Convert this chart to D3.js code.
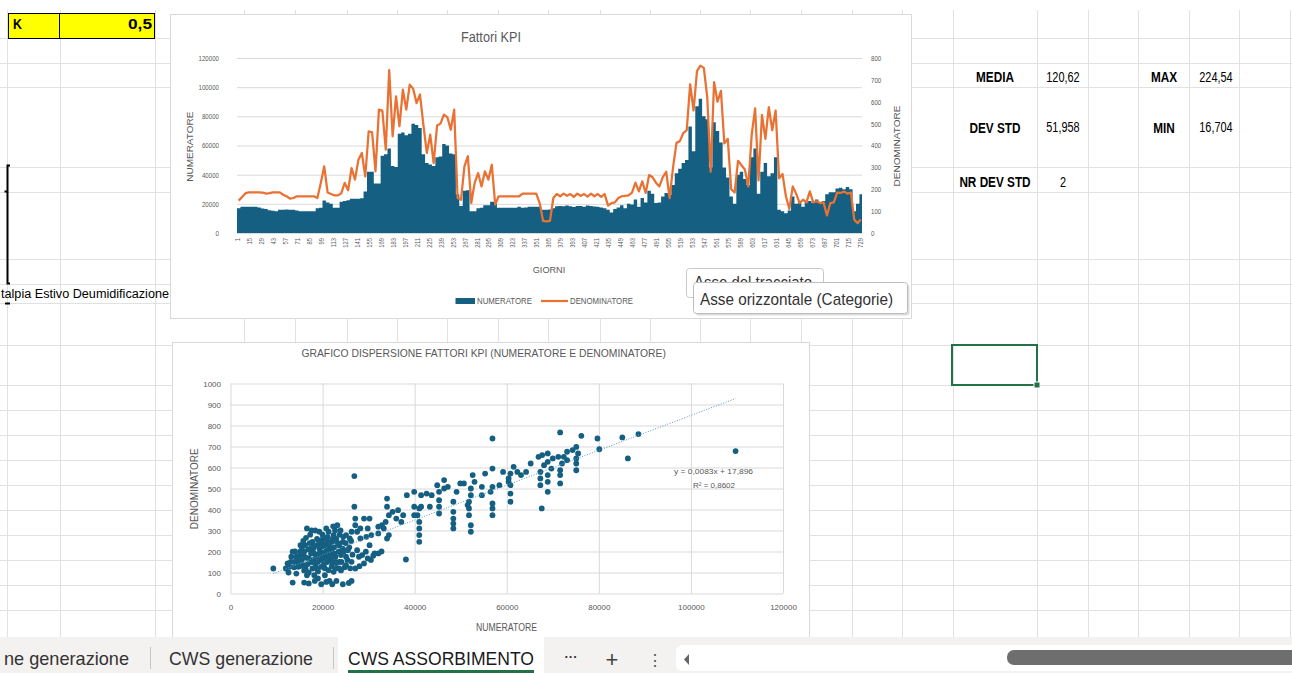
<!DOCTYPE html>
<html>
<head>
<meta charset="utf-8">
<title>CWS ASSORBIMENTO - Fattori KPI</title>
<script src="https://cdnjs.cloudflare.com/ajax/libs/d3/7.8.5/d3.min.js"></script>
<style>
  html, body { margin:0; padding:0; background:#fff; overflow:hidden; }
  svg { display:block; }
</style>
</head>
<body>
<svg id="sheet" width="1292" height="673"></svg>
<script>
// ---- data ----
// daily series, one value every STEP days (day 1, 5, 9, ...)
var STEP = 4;
var N_DAYS = 731;
var numeratore = [
  17000, 18000, 18000, 18000, 18000, 18000, 17500, 16800, 16500, 15600,
  15200, 15000, 16000, 16000, 16200, 16000, 16000, 15500, 15000, 15000,
  15000, 15000, 15000, 17000, 17300, 22300, 21000, 20000, 17300, 17300,
  21400, 22000, 22500, 23500, 23500, 23500, 23800, 28500, 42000, 42000,
  34000, 34000, 53000, 54000, 58000, 46000, 45300, 68000, 69000, 67000,
  68000, 75000, 74000, 72000, 54000, 48000, 47000, 46000, 52000, 52400,
  61000, 60000, 54500, 54000, 26500, 18500, 29000, 29400, 15000, 15000,
  17000, 17300, 19000, 19000, 21400, 21400, 17300, 17300, 17300, 17300,
  17300, 17300, 18000, 17300, 17500, 18000, 18000, 18000, 18000, 16000,
  16000, 16200, 17000, 18300, 18500, 18300, 18800, 18300, 17800, 18500,
  18600, 18000, 18900, 18500, 18200, 18000, 17500, 17000, 16000, 14000,
  16500, 17500, 19000, 17000, 20000, 19500, 23000, 18000, 24000, 21000,
  29000, 27000, 20500, 21000, 25000, 27500, 26000, 33000, 41000, 44000,
  48000, 50000, 73000, 56000, 87000, 92000, 80000, 78000, 45000, 76000,
  70000, 62000, 45000, 38000, 25000, 20000, 40000, 42000, 37000, 33000,
  52000, 58000, 27000, 42000, 48000, 39000, 41000, 52000, 16000, 15000,
  13500, 15500, 25000, 20000, 21000, 18000, 21000, 22000, 20500, 23000,
  21000, 22000, 26500, 28000, 28000, 30500, 31000, 30000, 31500, 30000,
  15000, 20000, 26500
];
var denominatore = [
  148, 165, 182, 186, 186, 186, 186, 185, 180, 182,
  186, 186, 186, 175, 168, 157, 160, 168, 168, 168,
  168, 168, 168, 160, 229, 305, 185, 178, 172, 172,
  182, 229, 195, 297, 244, 335, 366, 259, 465, 460,
  282, 564, 560, 381, 745, 442, 625, 488, 655, 564,
  678, 660, 594, 633, 495, 366, 450, 320, 491, 500,
  541, 530, 472, 564, 160, 152, 305, 351, 137, 229,
  274, 213, 282, 244, 312, 130, 168, 168, 168, 168,
  168, 168, 168, 180, 180, 180, 180, 180, 137, 55,
  53, 55, 160, 178, 168, 180, 170, 178, 165, 180,
  170, 178, 166, 180, 168, 178, 165, 178, 125, 137,
  140, 160, 168, 170, 172, 185, 230, 190, 236, 183,
  265, 255, 230, 213, 255, 280, 160, 300, 412, 420,
  457, 470, 680, 560, 740, 765, 755, 620, 280, 690,
  600, 650, 410, 430, 200, 185, 330, 310, 290, 213,
  450, 570, 240, 540, 430, 575, 470, 560, 250, 270,
  168, 110, 213, 180, 137, 152, 140, 190, 140, 145,
  137, 140, 80, 137, 140, 185, 183, 190, 180, 185,
  60, 45, 62
];
var dayTicks = d3.range(1, N_DAYS + 1, 14);   // 1, 15, 29 ... 729
var leftTicks = [0, 20000, 40000, 60000, 80000, 100000, 120000];
var rightTicks = [0, 100, 200, 300, 400, 500, 600, 700, 800];

// scatter: [numeratore, denominatore]
var scatterPoints = [
  [9300,119],[71600,767],[56900,738],[76200,751],[79700,738],[85100,743],[88600,759],
  [80100,687],[86300,643],[109700,678],[26900,559],[26900,413],[38100,162],[13500,52],
  [16000,52],[19700,44],[22100,44],[24400,44],[26300,60],
  [66900,651],[67700,659],[68900,667],[68100,611],[68900,627],[70000,643],[71200,651],
  [72400,651],[73100,675],[74300,683],[75100,698],[75500,667],[75100,643],[75100,619],
  [75100,587],[73100,635],[72000,619],[71600,587],[71600,564],[71600,524],[69700,595],
  [68900,564],[68900,532],[68900,484],[67300,579],[67300,548],[67300,516],[67600,405],
  [65200,619],[64200,579],[63100,564],[62300,579],[61500,603],[60800,571],[60400,548],
  [60400,532],[60800,476],[60800,437],[60800,516],[59200,579],[58400,516],[56900,595],
  [56900,508],[56900,429],[56900,405],[56900,373],[56500,484],[54600,508],[54600,468],
  [55300,571],[53000,532],[52600,564],[52200,500],[52200,468],[51800,437],[51800,405],
  [51800,373],[52200,325],[52200,294],[51500,421],[50700,524],[49900,524],[49100,484],
  [48400,437],[48400,389],[48400,357],[48400,333],[48400,310],[47200,508],[46400,540],
  [46400,500],[45300,484],[45300,444],[45300,413],[45300,381],[44900,516],[43700,468],
  [43300,413],[42600,476],[41400,468],[41400,413],[41000,405],[40600,373],[41000,341],
  [41000,310],[41000,278],[41000,246],[39900,484],[39900,413],[39900,373],[38300,468],
  [37500,373],[37100,341],[36400,397],[36000,357],[35200,389],[34400,373],[34000,413],
  [34000,452],[33700,341],[33300,310],[32900,325],[32100,318],[32100,286],[34000,262],
  [34400,278],[30600,278],[30200,357],[29800,310],[29000,357],[28200,310],[28200,262],
  [27500,294],[27100,357],[27100,325],[26300,294],[25900,262],[25100,278],[24400,246],
  [23600,230],[23200,325],[22400,278],[22100,246],[22100,199],[22100,151],[21700,214],
  [21300,294],[20900,175],[20500,230],[20100,262],[19700,183],[19300,294],[19000,230],
  [19000,151],[18200,191],[17800,246],[17800,119],[17400,214],[17000,167],[16600,310],
  [16600,87],[16200,230],[15900,183],[15900,135],[15500,159],[15100,199],[14700,127],
  [14300,175],[13900,151],[13500,199],[13100,151],[12800,127],[12400,143],[12000,119],
  [14300,95],[17000,48],[19000,72],[23600,119],[25100,135],[26300,151],[27100,119],
  [27900,175],[28600,183],[29400,199],[30200,230],[31300,191],[32100,191],[29800,167],
  [29000,143],[27500,206],[25500,206],[24000,183],[22800,151],[22800,175],[20500,87],
  [19700,127],[18200,87],[18600,175],[19300,214],[20100,167],[21300,111],[22400,103],
  [23600,151],[24400,214],[25100,175],[16000,200],[16500,170],[17500,190],[18000,160],
  [18500,140],[19500,200],[20000,190],[21000,150],[21500,180],[22500,220],[23000,260],
  [23500,200],[24500,270],[20000,280],[18800,260],[17200,240],[16800,140],[15500,220],
  [14500,160],[15000,180],[21000,250],[22700,300],[26500,185],[30500,160],[31000,180],
  [28000,130],[26000,120],[24800,125],[32800,200],[29500,270],[22000,130],[20500,120],
  [19000,105],[14000,200],[14800,140],[15200,230],[15800,250],[16300,120],[16900,210],
  [17300,280],[17700,150],[18100,230],[18400,300],[18700,120],[19200,250],[19600,160],
  [19900,240],[20300,140],[20700,200],[21100,270],[21400,230],[21800,160],[22200,260],
  [22600,190],[22900,120],[23300,240],[23700,280],[24100,150],[24600,200],[25000,240],
  [25400,160],[25800,220],[26200,250],[15000,130],[16000,110],[17000,100],[18000,215],
  [19000,185],[20000,225],[21000,205],[22000,175],[23000,145],[24000,110],[12600,100],
  [13200,175],[13800,125],[16400,265],[17600,300],[20800,310],[22300,320],[23900,300],
  [18300,60],[20800,55],[21500,60],[23000,60],[25700,50]
];
var scatterXTicks = [0, 20000, 40000, 60000, 80000, 100000, 120000];
var scatterYTicks = [0, 100, 200, 300, 400, 500, 600, 700, 800, 900, 1000];
var trendSlope = 0.0083, trendIntercept = 17.896;
var trendFrom = 9300, trendTo = 109700;
var trendLabels = ['y = 0,0083x + 17,896', 'R\u00b2 = 0,8602'];

// cells on the sheet
var statLeft = [['MEDIA', '120,62'], ['DEV STD', '51,958'], ['NR DEV STD', '2']];
var statRight = [['MAX', '224,54'], ['MIN', '16,704']];
var tabNames = ['ne generazione', 'CWS generazione', 'CWS ASSORBIMENTO'];

// ---- drawing ----
var FONT = "'Liberation Sans', Arial, sans-serif";
var BLUE = '#156082', ORANGE = '#E97132', GREY = '#595959', GRID = '#d9d9d9';
var svg = d3.select('#sheet').attr('font-family', FONT);
var plain = d3.format('d');

function fit(sel, w) {
  sel.attr('textLength', w).attr('lengthAdjust', 'spacingAndGlyphs');
}
function squeeze(sel, k) {
  sel.each(function() {
    var w = this.getComputedTextLength();
    this.setAttribute('textLength', w * k);
    this.setAttribute('lengthAdjust', 'spacingAndGlyphs');
  });
}
function label(g, s, x, y, size, opts) {
  opts = opts || {};
  var t = g.append('text').attr('x', x).attr('y', y).attr('font-size', size)
    .attr('fill', opts.fill || GREY).attr('text-anchor', opts.anchor || 'start')
    .attr('font-weight', opts.bold ? 'bold' : null).text(s);
  if (opts.rot) t.attr('transform', 'rotate(' + opts.rot + ',' + x + ',' + y + ')');
  if (opts.w) fit(t, opts.w);
  return t;
}

// spreadsheet grid
var colX = [7, 60, 155, 244, 295, 347, 397, 447, 498, 548, 600, 650, 700, 750, 801, 852, 902, 953, 1037, 1088, 1138, 1189, 1239, 1290];
var rowY = [38, 63, 87, 167, 192, 259, 284, 303, 345, 385, 410, 435, 460, 485, 510, 535, 560, 585, 610];
var grid = svg.append('g').attr('stroke', '#e1e1e1').attr('stroke-width', 1);
colX.forEach(function(x) { grid.append('line').attr('x1', x + 0.5).attr('x2', x + 0.5).attr('y1', 10).attr('y2', 640); });
rowY.forEach(function(y) { grid.append('line').attr('x1', 0).attr('x2', 1292).attr('y1', y + 0.5).attr('y2', y + 0.5); });

// yellow K cell
svg.append('rect').attr('x', 8.5).attr('y', 13.5).attr('width', 146).attr('height', 25)
  .attr('fill', '#ffff00').attr('stroke', '#000');
svg.append('line').attr('x1', 59.5).attr('x2', 59.5).attr('y1', 13.5).attr('y2', 38.5).attr('stroke', '#000');
label(svg, 'K', 13, 28.5, 15, {bold: true, fill: '#000', w: 9});
label(svg, '0,5', 152, 28.5, 15, {bold: true, fill: '#000', anchor: 'end', w: 24});

// bracket on the left and overflowing cell text
svg.append('path').attr('d', 'M10,165.5 H7.5 V283.5 H10 M4.5,191.5 H7.5 M5,303.5 H10')
  .attr('fill', 'none').attr('stroke', '#000').attr('stroke-width', 2);
label(svg, 'talpia Estivo Deumidificazione', 1, 297.5, 12.5, {fill: '#000', w: 168});

// stats cells
var statTxt = svg.append('g');
var lx = [995, 1063], rx = [1164, 1216];
var rowBase = [81.5, 133, 186.5];
statLeft.forEach(function(r, i) {
  squeeze(label(statTxt, r[0], lx[0], rowBase[i], 14, {bold: true, fill: '#000', anchor: 'middle'}), 0.84);
  squeeze(label(statTxt, r[1], lx[1], rowBase[i] - (i === 1 ? 1.5 : 0), 14, {fill: '#000', anchor: 'middle'}), 0.78);
});
statRight.forEach(function(r, i) {
  squeeze(label(statTxt, r[0], rx[0], rowBase[i], 14, {bold: true, fill: '#000', anchor: 'middle'}), 0.84);
  squeeze(label(statTxt, r[1], rx[1], rowBase[i] - (i === 1 ? 1.5 : 0), 14, {fill: '#000', anchor: 'middle'}), 0.78);
});

// selected cell
svg.append('rect').attr('x', 952).attr('y', 345).attr('width', 85).attr('height', 40)
  .attr('fill', 'none').attr('stroke', '#217346').attr('stroke-width', 2);
svg.append('rect').attr('x', 1034).attr('y', 382).attr('width', 6).attr('height', 6)
  .attr('fill', '#217346').attr('stroke', '#fff');

// ===== chart 1: Fattori KPI =====
var c1 = svg.append('g');
c1.append('rect').attr('x', 170.5).attr('y', 14.5).attr('width', 741).attr('height', 304)
  .attr('fill', '#fff').attr('stroke', GRID);

var x1 = d3.scaleBand().domain(d3.range(1, N_DAYS + 1)).range([237, 862]);
var bw = x1.bandwidth();
var yL = d3.scaleLinear().domain([0, 120000]).range([233, 58]);
var yR = d3.scaleLinear().domain([0, 800]).range([233, 58]);

c1.append('g').attr('transform', 'translate(237,0)')
  .call(d3.axisLeft(yL).tickValues(leftTicks).tickSize(-625).tickFormat(''))
  .call(function(g) { g.select('.domain').remove(); g.selectAll('line').attr('stroke', GRID); });

var blocks = numeratore.map(function(v, i) {
  var day = 1 + i * STEP;
  return {day: day, len: Math.min(STEP, N_DAYS - day + 1), num: v, den: denominatore[i]};
});

// columns with no gap: drawn as one stepped area so that they touch
var last = blocks[blocks.length - 1];
var edge = blocks.concat([{day: N_DAYS + 1, num: last.num}]);
var colArea = d3.area()
  .curve(d3.curveStepAfter)
  .x(function(d) { return d.day > N_DAYS ? x1.range()[1] : x1(d.day); })
  .y0(yL(0))
  .y1(function(d) { return yL(d.num); });
c1.append('path').datum(edge).attr('d', colArea).attr('fill', BLUE);

var line = d3.line()
  .x(function(d) { return x1(d.day) + d.len * bw / 2; })
  .y(function(d) { return yR(d.den); });
c1.append('path').datum(blocks).attr('d', line).attr('fill', 'none')
  .attr('stroke', ORANGE).attr('stroke-width', 2.25).attr('stroke-linejoin', 'round');

// axes
var ax1 = c1.append('g').attr('transform', 'translate(0,233)')
  .call(d3.axisBottom(x1).tickValues(dayTicks).tickSize(0).tickPadding(0));
ax1.attr('font-family', FONT);
ax1.select('.domain').attr('stroke', GRID);
ax1.selectAll('text').attr('transform', 'rotate(-90)').attr('x', -5).attr('y', bw / 2)
  .attr('dy', '0.32em').attr('text-anchor', 'end').attr('font-size', 6.8).attr('fill', GREY)
  .call(squeeze, 0.85);

var axL = c1.append('g').attr('transform', 'translate(237,0)')
  .call(d3.axisLeft(yL).tickValues(leftTicks).tickSize(0).tickPadding(18).tickFormat(plain));
axL.attr('font-family', FONT).select('.domain').remove();
axL.selectAll('text').attr('font-size', 7.5).attr('fill', GREY).call(squeeze, 0.82);

var axR = c1.append('g').attr('transform', 'translate(862,0)')
  .call(d3.axisRight(yR).tickValues(rightTicks).tickSize(0).tickPadding(9).tickFormat(plain));
axR.attr('font-family', FONT).select('.domain').remove();
axR.selectAll('text').attr('font-size', 7.5).attr('fill', GREY).call(squeeze, 0.82);

label(c1, 'Fattori KPI', 491, 41.5, 14, {anchor: 'middle', w: 60});
label(c1, 'NUMERATORE', 193.3, 146.7, 9.3, {anchor: 'middle', rot: -90, w: 70});
label(c1, 'DENOMINATORE', 900, 146, 9.3, {anchor: 'middle', rot: -90, w: 81});
label(c1, 'GIORNI', 549, 273.3, 9.2, {anchor: 'middle', w: 32.5});

// legend
c1.append('rect').attr('x', 455.5).attr('y', 298).attr('width', 19.5).attr('height', 6).attr('fill', BLUE);
label(c1, 'NUMERATORE', 477, 304, 9, {w: 55});
c1.append('line').attr('x1', 541).attr('x2', 568).attr('y1', 301).attr('y2', 301)
  .attr('stroke', ORANGE).attr('stroke-width', 2.25);
label(c1, 'DENOMINATORE', 570, 304, 9, {w: 63});

// ===== chart 2: scatter =====
var c2 = svg.append('g');
c2.append('rect').attr('x', 172.5).attr('y', 342.5).attr('width', 637).attr('height', 310)
  .attr('fill', '#fff').attr('stroke', GRID);

var xs = d3.scaleLinear().domain([0, 120000]).range([230.5, 783]);
var ys = d3.scaleLinear().domain([0, 1000]).range([593.5, 383.5]);

c2.append('g').attr('transform', 'translate(0,593.5)')
  .call(d3.axisBottom(xs).tickValues(scatterXTicks).tickSize(-210).tickFormat(''))
  .call(function(g) { g.select('.domain').remove(); g.selectAll('line').attr('stroke', GRID); });
c2.append('g').attr('transform', 'translate(230.5,0)')
  .call(d3.axisLeft(ys).tickValues(scatterYTicks).tickSize(-552.5).tickFormat(''))
  .call(function(g) { g.select('.domain').remove(); g.selectAll('line').attr('stroke', GRID); });

var axX = c2.append('g').attr('transform', 'translate(0,593.5)')
  .call(d3.axisBottom(xs).tickValues(scatterXTicks).tickSize(0).tickPadding(11).tickFormat(plain));
axX.attr('font-family', FONT).select('.domain').remove();
axX.selectAll('text').attr('font-size', 8).attr('fill', GREY);

var axY = c2.append('g').attr('transform', 'translate(230.5,0)')
  .call(d3.axisLeft(ys).tickValues(scatterYTicks).tickSize(0).tickPadding(9.5).tickFormat(plain));
axY.attr('font-family', FONT).select('.domain').remove();
axY.selectAll('text').attr('font-size', 8).attr('fill', GREY);

c2.append('g').selectAll('circle').data(scatterPoints).enter().append('circle')
  .attr('cx', function(d) { return xs(d[0]); })
  .attr('cy', function(d) { return ys(d[1]); })
  .attr('r', 2.9).attr('fill', BLUE);

c2.append('line')
  .attr('x1', xs(trendFrom)).attr('y1', ys(trendSlope * trendFrom + trendIntercept))
  .attr('x2', xs(trendTo)).attr('y2', ys(trendSlope * trendTo + trendIntercept))
  .attr('stroke', '#5b9bc4').attr('stroke-width', 1).attr('stroke-dasharray', '1 1.6');

label(c2, trendLabels[0], 713.5, 474, 7.5, {anchor: 'middle', w: 79});
label(c2, trendLabels[1], 714, 488, 7.5, {anchor: 'middle', w: 42});

label(c2, 'GRAFICO DISPERSIONE FATTORI KPI (NUMERATORE E DENOMINATORE)', 483.7, 357, 11.5, {anchor: 'middle', w: 364.5});
label(c2, 'NUMERATORE', 506.5, 631, 10, {anchor: 'middle', w: 61});
label(c2, 'DENOMINATORE', 197.8, 488.7, 10, {anchor: 'middle', rot: -90, w: 81});

// ===== tooltip =====
var tip = svg.append('g');
tip.append('rect').attr('x', 686.5).attr('y', 268.5).attr('width', 137).attr('height', 29).attr('rx', 3)
  .attr('fill', '#fff').attr('stroke', '#c8c8c8');
label(tip, 'Asse del tracciato', 694, 287.5, 16, {fill: '#333', w: 118});
tip.append('rect').attr('x', 695.5).attr('y', 284.5).attr('width', 214).attr('height', 31).attr('rx', 3)
  .attr('fill', '#9a9a9a').attr('opacity', 0.35);
tip.append('rect').attr('x', 693.5).attr('y', 282.5).attr('width', 214).attr('height', 31).attr('rx', 3)
  .attr('fill', '#fff').attr('stroke', '#bdbdbd');
label(tip, 'Asse orizzontale (Categorie)', 700, 305, 17, {fill: '#333', w: 193});

// ===== sheet tabs =====
var tabs = svg.append('g');
tabs.append('rect').attr('x', 0).attr('y', 637).attr('width', 1292).attr('height', 36).attr('fill', '#f3f2f1');
tabs.append('rect').attr('x', 338).attr('y', 637).attr('width', 206).attr('height', 36).attr('fill', '#fff');
tabs.append('rect').attr('x', 348).attr('y', 670).attr('width', 186).attr('height', 3).attr('fill', '#217346');
[150.5, 333.5].forEach(function(x) {
  tabs.append('line').attr('x1', x).attr('x2', x).attr('y1', 647).attr('y2', 669).attr('stroke', '#c8c6c4');
});
var tabX = [4, 169, 348], tabW = [125, 144, 186];
tabNames.forEach(function(n, i) {
  label(tabs, n, tabX[i], 665, 19, {fill: i === 2 ? '#1a1a1a' : '#333', w: tabW[i]});
});
label(tabs, '\u00b7\u00b7\u00b7', 571, 661, 13, {fill: '#333', anchor: 'middle', bold: true});
label(tabs, '+', 612, 667, 22, {fill: '#444', anchor: 'middle'});
label(tabs, '\u22ee', 655, 666, 16, {fill: '#555', anchor: 'middle'});
tabs.append('rect').attr('x', 676).attr('y', 645).attr('width', 630).attr('height', 26).attr('rx', 6).attr('fill', '#fff');
tabs.append('path').attr('d', 'M689,654 L684,659.5 L689,665 Z').attr('fill', '#666');
tabs.append('rect').attr('x', 1007).attr('y', 650).attr('width', 300).attr('height', 15).attr('rx', 7).attr('fill', '#6e6e6e');
</script>
</body>
</html>
